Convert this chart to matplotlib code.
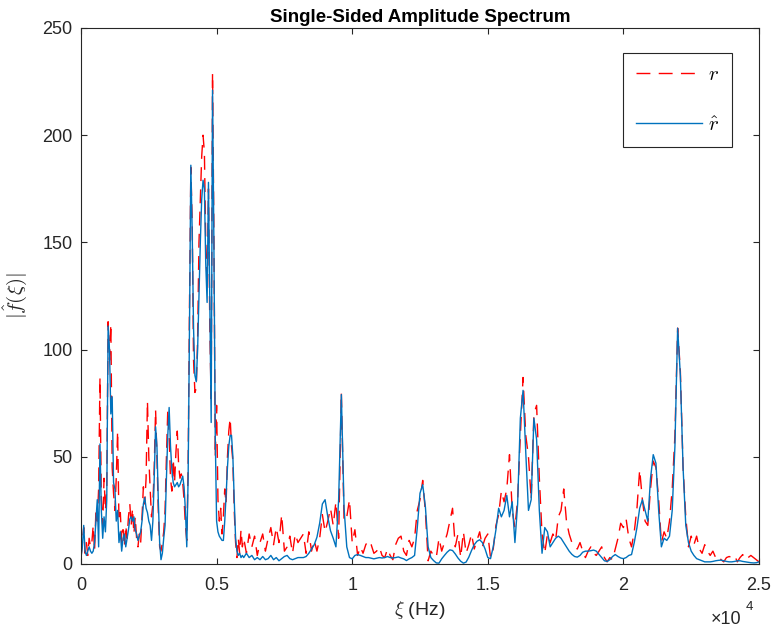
import numpy as np
import matplotlib
matplotlib.use("Agg")
import matplotlib.pyplot as plt

plt.rcParams['font.family'] = ['Liberation Sans', 'DejaVu Sans']
plt.rcParams['mathtext.fontset'] = 'cm'

# frequency grids (Hz): finer near the low-frequency cluster
freq_fine = np.arange(0, 6000, 50)
freq_coarse = np.arange(6000, 25001, 100)

# |r| spectrum, 0 - 5950 Hz every 50 Hz
r_fine = [
    3, 10, 17, 5, 10, 4, 12, 8, 10, 18,
    6, 25, 20, 35, 87, 30, 18, 40, 25, 35,
    113, 95, 112, 45, 33, 25, 40, 62, 20, 24,
    10, 16, 8, 18, 12, 22, 28, 18, 26, 14,
    22, 12, 8, 14, 10, 22, 36, 28, 40, 76,
    50, 35, 22, 28, 45, 72, 50, 25, 8, 6,
    10, 15, 25, 50, 72, 60, 40, 34, 49, 38,
    52, 62, 46, 40, 42, 38, 30, 18, 11, 45,
    120, 185, 160, 95, 80, 82, 105, 150, 170, 190,
    200, 192, 150, 130, 175, 110, 75, 229, 155, 50,
    74, 30, 20, 26, 14, 22, 35, 28, 50, 62,
    68, 55, 48, 25, 10, 3, 12, 5, 16, 8,
]
# |r_hat| spectrum, 0 - 5950 Hz every 50 Hz
rhat_fine = [
    3, 8, 18, 6, 4, 6, 8, 6, 5, 6,
    10, 20, 30, 8, 56, 25, 12, 22, 15, 30,
    111, 100, 70, 78, 38, 35, 20, 25, 10, 15,
    6, 12, 14, 8, 12, 16, 21, 22, 20, 22,
    16, 14, 11, 13, 15, 20, 28, 31, 26, 24,
    20, 18, 11, 20, 40, 64, 55, 30, 10, 2,
    5, 12, 18, 40, 60, 73, 55, 44, 38, 36,
    37, 38, 36, 37, 39, 41, 36, 25, 8, 40,
    110, 186, 155, 110, 88, 85, 100, 125, 150, 170,
    179, 175, 140, 122, 178, 120, 66, 221, 150, 60,
    20, 15, 13, 12, 11, 11, 20, 32, 45, 55,
    60, 60, 50, 30, 12, 6, 4, 5, 3, 4,
]
# |r| spectrum, 6000 - 25000 Hz every 100 Hz
r_coarse = [
    12, 5, 14, 8, 13, 4, 10, 14, 6, 12,
    17, 9, 17, 10, 23, 6, 8, 13, 5, 14,
    10, 12, 14, 5, 15, 6, 11, 6, 12, 23,
    15, 20, 26, 18, 29, 12, 80, 20, 22, 30,
    10, 16, 4, 8, 5, 9, 11, 9, 5, 6,
    8, 4, 3, 7, 4, 2, 9, 12, 13, 6,
    4, 11, 8, 12, 25, 30, 39, 24, 1.5, 6,
    4, 3, 12, 6, 10, 14, 20, 26, 8, 14,
    3, 15, 5, 9, 14, 7, 11, 15, 8, 12,
    14, 3, 7, 18, 23, 34, 29, 35, 51, 25,
    17, 30, 60, 87, 60, 50, 30, 70, 74, 40,
    14, 5, 14, 10, 14, 11, 22, 25, 35, 20,
    14, 10, 8, 7, 10, 6, 3, 6, 8, 5,
    4, 6, 8, 3, 1, 3, 2, 7, 12, 19,
    17, 21, 12, 8, 15, 26, 44, 30, 20, 18,
    35, 48, 45, 30, 10, 15, 12, 20, 35, 60,
    110, 90, 45, 22, 8, 13, 9, 13, 7, 5,
    9, 6, 4, 6, 3, 4, 2, 1, 3, 3.5,
    3, 4, 1, 3, 4.4, 2, 3, 4, 3, 2,
    1,
]
# |r_hat| spectrum, 6000 - 25000 Hz every 100 Hz
rhat_coarse = [
    3, 5, 3, 4, 2, 3, 2, 3.5, 2, 2.5,
    4, 2, 3, 1.5, 2.5, 3.5, 4, 2.5, 2, 2.5,
    3, 3, 3, 3.5, 5, 7, 9, 12.5, 19, 28,
    30, 22, 15.5, 12, 8, 30, 79, 26, 8, 3,
    2.4, 4, 4.4, 4, 3.5, 3, 3, 2.7, 2.4, 2.7,
    3, 2.8, 3, 3.5, 3, 2.8, 3, 3.3, 2.8, 2.4,
    1.6, 2.4, 3, 4, 17, 33, 37, 26.5, 8, 3,
    1.6, 0.5, 0.4, 2.4, 4, 5.5, 6.6, 6.3, 4.7, 2.8,
    1.3, 0.4, 0.9, 3.2, 6.3, 9, 10.6, 11.3, 10, 7,
    3, 2.5, 8, 16, 26, 22, 25, 32, 22, 29,
    10, 28, 68, 81, 52, 25, 30, 68, 58, 25,
    5, 17, 15, 8, 10, 12, 13, 12, 10, 8,
    6, 4.5, 3.5, 3.2, 4, 5.5, 6, 6, 6.2, 6.5,
    6, 4.5, 3, 1.5, 1.2, 2, 3.5, 4.4, 3.5, 2.8,
    2.5, 3, 4, 4.4, 10, 17, 26, 30, 25, 20,
    40, 51, 47, 25, 8, 12, 11, 13, 25, 55,
    110, 88, 45, 18, 10, 6, 4, 2.5, 2, 1.5,
    1, 1, 1, 1.2, 1.5, 1.7, 1.8, 1.5, 1.2, 1,
    1, 1.2, 1.5, 1.5, 1.2, 1, 0.8, 0.6, 0.5, 0.6,
    1,
]

freq = np.concatenate([freq_fine, freq_coarse])
r = np.array(r_fine + r_coarse)
rhat = np.array(rhat_fine + rhat_coarse)

axcol = '#262626'
fig = plt.figure(figsize=(7.74, 6.32), dpi=100)
ax = fig.add_axes([81 / 774, 1 - 564 / 632, 678 / 774, 536 / 632])

ax.plot(freq, r, color='#FF0000', lw=1.0, linestyle=(0, (10, 6)), label='$r$')
ax.plot(freq, rhat, color='#0072BD', lw=1.0, label=r'$\hat{r}$')

ax.set_xlim(0, 25000)
ax.set_ylim(0, 250)
ax.set_xticks([0, 5000, 10000, 15000, 20000, 25000])
ax.set_xticklabels(['0', '0.5', '1', '1.5', '2', '2.5'])
ax.set_yticks([0, 50, 100, 150, 200, 250])
ax.tick_params(direction='in', top=True, right=True, length=4, width=0.8,
               colors=axcol, labelsize=13)
ax.tick_params(axis='x', pad=9)
ax.tick_params(axis='y', pad=6)
for s in ax.spines.values():
    s.set_color(axcol)
    s.set_linewidth(0.8)

ax.set_title('Single-Sided Amplitude Spectrum', fontsize=13.5, fontweight='bold',
             color='black', pad=4)
ax.set_xlabel(r'$\xi$ (Hz)', fontsize=14, color=axcol, labelpad=4)
ax.set_ylabel(r'$|\hat{f}(\xi)|$', fontsize=15, color=axcol, labelpad=10)

fig.text(711 / 774, 1 - 620 / 632, '\u00d710', fontsize=13, color=axcol,
         ha='left', va='center')
fig.text(746 / 774, 1 - 607 / 632, '4', fontsize=9.5, color=axcol,
         ha='left', va='center')

leg = ax.legend(loc='upper right', bbox_to_anchor=(732 / 774, 1 - 53 / 632),
                bbox_transform=fig.transFigure, fontsize=15, frameon=True,
                fancybox=False, framealpha=1, edgecolor=axcol,
                handlelength=3.2, handletextpad=0.3, labelspacing=1.5,
                borderpad=0.6, borderaxespad=0)
leg.get_frame().set_linewidth(0.8)

fig.savefig('out.png', dpi=100)
